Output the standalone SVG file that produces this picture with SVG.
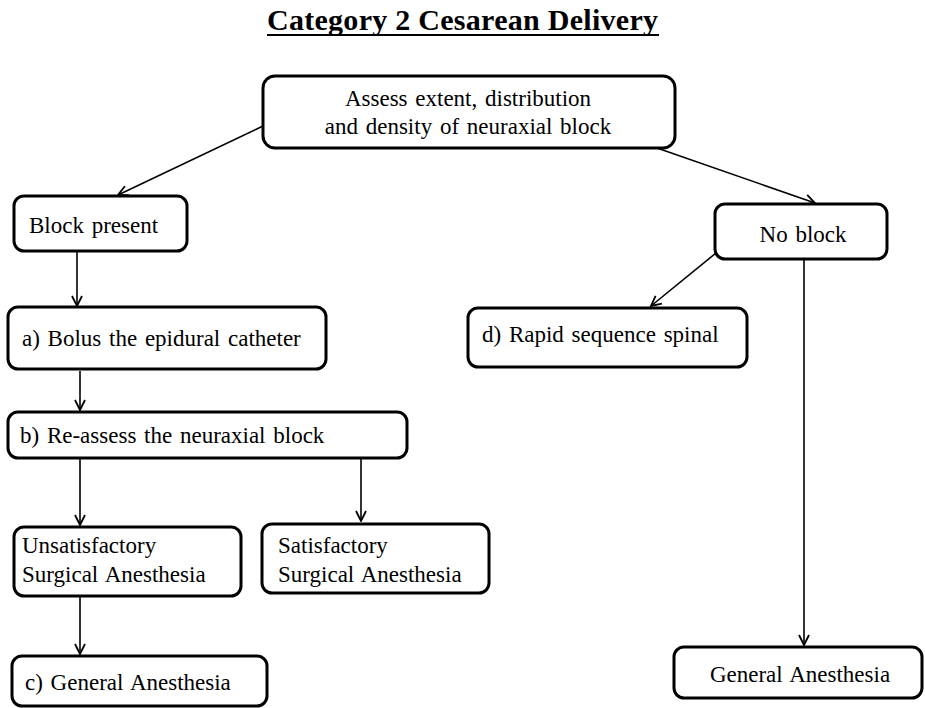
<svg xmlns="http://www.w3.org/2000/svg" width="925" height="708" viewBox="0 0 925 708">
<style>
.box{fill:#fff;stroke:#000;stroke-width:3}
.t{font-family:"Liberation Serif","Times New Roman",serif;font-size:23px;word-spacing:2px;fill:#000}
.title{font-family:"Liberation Serif","Times New Roman",serif;font-size:30px;font-weight:bold;fill:#000}
.c{stroke:#000;stroke-width:1.6;fill:none}
</style>
<defs>
<marker id="ah" viewBox="0 0 12 12" refX="11" refY="6" markerWidth="12" markerHeight="12" markerUnits="userSpaceOnUse" orient="auto">
<path d="M1,1 L11,6 L1,11" fill="none" stroke="#000" stroke-width="1.8"/>
</marker>
</defs>
<rect width="925" height="708" fill="#fff"/>
<g id="title">
<text class="title" x="267" y="30" textLength="391" lengthAdjust="spacing">Category 2 Cesarean Delivery</text>
<line x1="267" y1="35" x2="659" y2="35" stroke="#000" stroke-width="2"/>
</g>
<g id="connectors">
<line class="c" x1="263" y1="126" x2="118" y2="195" marker-end="url(#ah)"/>
<line class="c" x1="657" y1="148" x2="815" y2="203" marker-end="url(#ah)"/>
<line class="c" x1="77" y1="251" x2="77" y2="306" marker-end="url(#ah)"/>
<line class="c" x1="80" y1="371" x2="80" y2="410" marker-end="url(#ah)"/>
<line class="c" x1="80" y1="458" x2="80" y2="525" marker-end="url(#ah)"/>
<line class="c" x1="361" y1="458" x2="361" y2="521" marker-end="url(#ah)"/>
<line class="c" x1="80" y1="596" x2="80" y2="654" marker-end="url(#ah)"/>
<line class="c" x1="716" y1="253" x2="651" y2="306" marker-end="url(#ah)"/>
<line class="c" x1="804" y1="259" x2="804" y2="645" marker-end="url(#ah)"/>
</g>
<g id="assess">
<rect class="box" x="263" y="76" width="412" height="72" rx="12"/>
<text class="t" x="468" y="106" text-anchor="middle">Assess extent, distribution</text>
<text class="t" x="468" y="134" text-anchor="middle">and density of neuraxial block</text>
</g>
<g id="block-present">
<rect class="box" x="14" y="196" width="173" height="55" rx="10"/>
<text class="t" x="29" y="233">Block present</text>
</g>
<g id="bolus">
<rect class="box" x="8" y="307" width="318" height="62" rx="10"/>
<text class="t" x="22" y="346">a) Bolus the epidural catheter</text>
</g>
<g id="reassess">
<rect class="box" x="8" y="412" width="399" height="46" rx="10"/>
<text class="t" x="20" y="443">b) Re-assess the neuraxial block</text>
</g>
<g id="unsatisfactory">
<rect class="box" x="14" y="527" width="227" height="69" rx="10"/>
<text class="t" x="22" y="553">Unsatisfactory</text>
<text class="t" x="22" y="582">Surgical Anesthesia</text>
</g>
<g id="satisfactory">
<rect class="box" x="262" y="524" width="227" height="69" rx="10"/>
<text class="t" x="278" y="553">Satisfactory</text>
<text class="t" x="278" y="582">Surgical Anesthesia</text>
</g>
<g id="general-left">
<rect class="box" x="12" y="656" width="255" height="50" rx="10"/>
<text class="t" x="25" y="690">c) General Anesthesia</text>
</g>
<g id="no-block">
<rect class="box" x="715" y="204" width="172" height="55" rx="10"/>
<text class="t" x="803" y="242" text-anchor="middle">No block</text>
</g>
<g id="rapid">
<rect class="box" x="468" y="308" width="279" height="59" rx="10"/>
<text class="t" x="482" y="342">d) Rapid sequence spinal</text>
</g>
<g id="general-right">
<rect class="box" x="674" y="647" width="248" height="51" rx="10"/>
<text class="t" x="800" y="682" text-anchor="middle">General Anesthesia</text>
</g>
</svg>
